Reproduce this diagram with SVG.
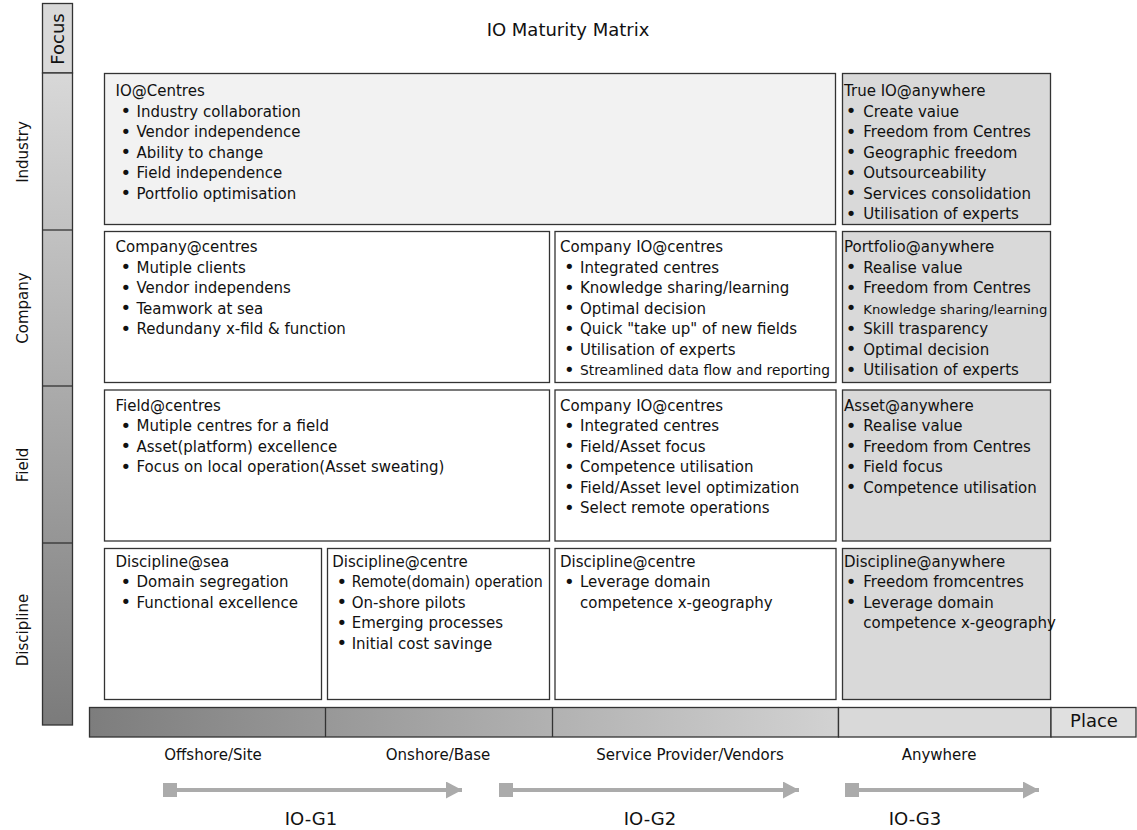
<svg xmlns="http://www.w3.org/2000/svg" width="1137" height="830" viewBox="0 0 1137 830">
<defs>
<linearGradient id="gv" x1="0" y1="73" x2="0" y2="725" gradientUnits="userSpaceOnUse">
<stop offset="0" stop-color="#d8d8d8"/>
<stop offset="1" stop-color="#7b7b7b"/>
</linearGradient>
<linearGradient id="gh" x1="89" y1="0" x2="838" y2="0" gradientUnits="userSpaceOnUse">
<stop offset="0" stop-color="#7d7d7d"/>
<stop offset="1" stop-color="#d2d2d2"/>
</linearGradient>
<marker id="sq" viewBox="0 0 14 14" refX="7" refY="7" markerWidth="14" markerHeight="14" markerUnits="userSpaceOnUse" orient="auto">
<rect x="0" y="0" width="14" height="14" fill="#ababab"/>
</marker>
<marker id="tri" viewBox="0 0 16 17" refX="16" refY="8.5" markerWidth="16" markerHeight="17" markerUnits="userSpaceOnUse" orient="auto">
<path d="M0,0 L16,8.5 L0,17 Z" fill="#ababab"/>
</marker>
</defs>
<style>
text{font-family:"DejaVu Sans","Liberation Sans",sans-serif;fill:#111;}
.t{font-size:15px;}
.b{font-size:18px;text-anchor:middle;}
.cell{stroke:#333;stroke-width:1.3;fill:#fff;}
.ind{fill:#f2f2f2;}
.any{fill:#d9d9d9;}
.ax{stroke:#333;stroke-width:1.3;}
.lab{font-size:15px;text-anchor:middle;}
.big{font-size:18px;text-anchor:middle;}
.arr{stroke:#ababab;stroke-width:4;fill:none;marker-start:url(#sq);marker-end:url(#tri);}
</style>
<rect width="1137" height="830" fill="#fff"/>
<text class="big" x="568" y="36">IO Maturity Matrix</text>

<g id="focus-axis">
<rect class="ax" x="42.5" y="3.5" width="30" height="69.5" fill="#d9d9d9"/>
<rect class="ax" x="42.5" y="73" width="30" height="652" fill="url(#gv)"/>
<line class="ax" x1="42.5" y1="230" x2="72.5" y2="230"/>
<line class="ax" x1="42.5" y1="386" x2="72.5" y2="386"/>
<line class="ax" x1="42.5" y1="543" x2="72.5" y2="543"/>
<text class="big" transform="translate(63.5,39) rotate(-90)">Focus</text>
<text class="lab" transform="translate(28,152) rotate(-90)">Industry</text>
<text class="lab" transform="translate(28,308) rotate(-90)">Company</text>
<text class="lab" transform="translate(28,465) rotate(-90)">Field</text>
<text class="lab" transform="translate(28,630) rotate(-90)">Discipline</text>
</g>

<g id="place-axis">
<rect class="ax" x="89.5" y="707.5" width="749" height="29.5" fill="url(#gh)"/>
<rect class="ax" x="838.5" y="707.5" width="212.5" height="29.5" fill="#d9d9d9"/>
<rect class="ax" x="1051" y="707.5" width="85" height="29.5" fill="#e0e0e0"/>
<line class="ax" x1="325.5" y1="707.5" x2="325.5" y2="737"/>
<line class="ax" x1="552.5" y1="707.5" x2="552.5" y2="737"/>
<text class="big" x="1094" y="727">Place</text>
<text class="lab" x="213" y="760">Offshore/Site</text>
<text class="lab" x="438" y="760">Onshore/Base</text>
<text class="lab" x="690" y="760">Service Provider/Vendors</text>
<text class="lab" x="939" y="760">Anywhere</text>
</g>

<g id="io-centres">
<rect class="cell ind" x="104.5" y="73.5" width="731" height="151"/>
<text class="t" x="115.5" y="96">IO@Centres</text>
<text class="b"><tspan x="125.8" y="117">•</tspan><tspan x="125.8" y="137.5">•</tspan><tspan x="125.8" y="158">•</tspan><tspan x="125.8" y="178.5">•</tspan><tspan x="125.8" y="199">•</tspan></text>
<text class="t"><tspan x="136.5" y="116.5">Industry collaboration</tspan><tspan x="136.5" y="137">Vendor independence</tspan><tspan x="136.5" y="157.5">Ability to change</tspan><tspan x="136.5" y="178">Field independence</tspan><tspan x="136.5" y="198.5">Portfolio optimisation</tspan></text>
</g>

<g id="true-io-anywhere">
<rect class="cell any" x="842.5" y="73.5" width="208" height="151"/>
<text class="t" x="844" y="96">True IO@anywhere</text>
<text class="b"><tspan x="851" y="117">•</tspan><tspan x="851" y="137.5">•</tspan><tspan x="851" y="158">•</tspan><tspan x="851" y="178.5">•</tspan><tspan x="851" y="199">•</tspan><tspan x="851" y="219.5">•</tspan></text>
<text class="t"><tspan x="863.3" y="116.5">Create vaiue</tspan><tspan x="863.3" y="137">Freedom from Centres</tspan><tspan x="863.3" y="157.5">Geographic freedom</tspan><tspan x="863.3" y="178">Outsourceability</tspan><tspan x="863.3" y="198.5">Services consolidation</tspan><tspan x="863.3" y="219">Utilisation of experts</tspan></text>
</g>

<g id="company-centres">
<rect class="cell" x="104.5" y="231.5" width="445" height="151"/>
<text class="t" x="115.5" y="252">Company@centres</text>
<text class="b"><tspan x="125.8" y="273">•</tspan><tspan x="125.8" y="293.5">•</tspan><tspan x="125.8" y="314">•</tspan><tspan x="125.8" y="334.5">•</tspan></text>
<text class="t"><tspan x="136.5" y="272.5">Mutiple clients</tspan><tspan x="136.5" y="293">Vendor independens</tspan><tspan x="136.5" y="313.5">Teamwork at sea</tspan><tspan x="136.5" y="334">Redundany x-fild &amp; function</tspan></text>
</g>

<g id="company-io-centres-1">
<rect class="cell" x="555" y="231.5" width="281" height="151"/>
<text class="t" x="560" y="252">Company IO@centres</text>
<text class="b"><tspan x="569.3" y="273">•</tspan><tspan x="569.3" y="293.5">•</tspan><tspan x="569.3" y="314">•</tspan><tspan x="569.3" y="334.5">•</tspan><tspan x="569.3" y="355">•</tspan><tspan x="569.3" y="375.5">•</tspan></text>
<text class="t"><tspan x="580" y="272.5">Integrated centres</tspan><tspan x="580" y="293">Knowledge sharing/learning</tspan><tspan x="580" y="313.5">Optimal decision</tspan><tspan x="580" y="334">Quick "take up" of new fields</tspan><tspan x="580" y="354.5">Utilisation of experts</tspan></text>
<text x="580" y="375" style="font-size:13.7px" textLength="250" lengthAdjust="spacingAndGlyphs">Streamlined data flow and reporting</text>
</g>

<g id="portfolio-anywhere">
<rect class="cell any" x="842.5" y="231.5" width="208" height="151"/>
<text class="t" x="844" y="252">Portfolio@anywhere</text>
<text class="b"><tspan x="851" y="273">•</tspan><tspan x="851" y="293.5">•</tspan><tspan x="851" y="314">•</tspan><tspan x="851" y="334.5">•</tspan><tspan x="851" y="355">•</tspan><tspan x="851" y="375.5">•</tspan></text>
<text class="t"><tspan x="863.3" y="272.5">Realise value</tspan><tspan x="863.3" y="293">Freedom from Centres</tspan><tspan x="863.3" y="334">Skill trasparency</tspan><tspan x="863.3" y="354.5">Optimal decision</tspan><tspan x="863.3" y="375">Utilisation of experts</tspan></text>
<text x="863.3" y="313.5" style="font-size:12.9px" textLength="184" lengthAdjust="spacingAndGlyphs">Knowledge sharing/learning</text>
</g>

<g id="field-centres">
<rect class="cell" x="104.5" y="390" width="445" height="151"/>
<text class="t" x="115.5" y="410.5">Field@centres</text>
<text class="b"><tspan x="125.8" y="431.5">•</tspan><tspan x="125.8" y="452">•</tspan><tspan x="125.8" y="472.5">•</tspan></text>
<text class="t"><tspan x="136.5" y="431">Mutiple centres for a field</tspan><tspan x="136.5" y="451.5">Asset(platform) excellence</tspan><tspan x="136.5" y="472">Focus on local operation(Asset sweating)</tspan></text>
</g>

<g id="company-io-centres-2">
<rect class="cell" x="555" y="390" width="281" height="151"/>
<text class="t" x="560" y="410.5">Company IO@centres</text>
<text class="b"><tspan x="569.3" y="431.5">•</tspan><tspan x="569.3" y="452">•</tspan><tspan x="569.3" y="472.5">•</tspan><tspan x="569.3" y="493">•</tspan><tspan x="569.3" y="513.5">•</tspan></text>
<text class="t"><tspan x="580" y="431">Integrated centres</tspan><tspan x="580" y="451.5">Field/Asset focus</tspan><tspan x="580" y="472">Competence utilisation</tspan><tspan x="580" y="492.5">Field/Asset level optimization</tspan><tspan x="580" y="513">Select remote operations</tspan></text>
</g>

<g id="asset-anywhere">
<rect class="cell any" x="842.5" y="390" width="208" height="151"/>
<text class="t" x="844" y="410.5">Asset@anywhere</text>
<text class="b"><tspan x="851" y="431.5">•</tspan><tspan x="851" y="452">•</tspan><tspan x="851" y="472.5">•</tspan><tspan x="851" y="493">•</tspan></text>
<text class="t"><tspan x="863.3" y="431">Realise value</tspan><tspan x="863.3" y="451.5">Freedom from Centres</tspan><tspan x="863.3" y="472">Field focus</tspan><tspan x="863.3" y="492.5">Competence utilisation</tspan></text>
</g>

<g id="discipline-sea">
<rect class="cell" x="104.5" y="548.5" width="217" height="151"/>
<text class="t" x="115.5" y="566.5">Discipline@sea</text>
<text class="b"><tspan x="125.8" y="587.5">•</tspan><tspan x="125.8" y="608">•</tspan></text>
<text class="t"><tspan x="136.5" y="587">Domain segregation</tspan><tspan x="136.5" y="607.5">Functional excellence</tspan></text>
</g>

<g id="discipline-centre-1">
<rect class="cell" x="327.5" y="548.5" width="222" height="151"/>
<text class="t" x="332.3" y="566.5">Discipline@centre</text>
<text class="b"><tspan x="341.7" y="587.5">•</tspan><tspan x="341.7" y="608">•</tspan><tspan x="341.7" y="628.5">•</tspan><tspan x="341.7" y="649">•</tspan></text>
<text class="t" x="351.7" y="587" textLength="191" lengthAdjust="spacingAndGlyphs">Remote(domain) operation</text>
<text class="t"><tspan x="351.7" y="607.5">On-shore pilots</tspan><tspan x="351.7" y="628">Emerging processes</tspan><tspan x="351.7" y="648.5">Initial cost savinge</tspan></text>
</g>

<g id="discipline-centre-2">
<rect class="cell" x="555" y="548.5" width="281" height="151"/>
<text class="t" x="560" y="566.5">Discipline@centre</text>
<text class="b"><tspan x="569.3" y="587.5">•</tspan></text>
<text class="t"><tspan x="580" y="587">Leverage domain</tspan><tspan x="580" y="607.5">competence x-geography</tspan></text>
</g>

<g id="discipline-anywhere">
<rect class="cell any" x="842.5" y="548.5" width="208" height="151"/>
<text class="t" x="844" y="566.5">Discipline@anywhere</text>
<text class="b"><tspan x="851" y="587.5">•</tspan><tspan x="851" y="608">•</tspan></text>
<text class="t"><tspan x="863.3" y="587">Freedom fromcentres</tspan><tspan x="863.3" y="607.5">Leverage domain</tspan><tspan x="863.3" y="628">competence x-geography</tspan></text>
</g>

<g id="connectors">
<line class="arr" x1="170" y1="790" x2="462" y2="790"/>
<line class="arr" x1="506" y1="790" x2="799" y2="790"/>
<line class="arr" x1="852" y1="790" x2="1039" y2="790"/>
<text class="big" x="311" y="825">IO-G1</text>
<text class="big" x="650" y="825">IO-G2</text>
<text class="big" x="915" y="825">IO-G3</text>
</g>
</svg>
